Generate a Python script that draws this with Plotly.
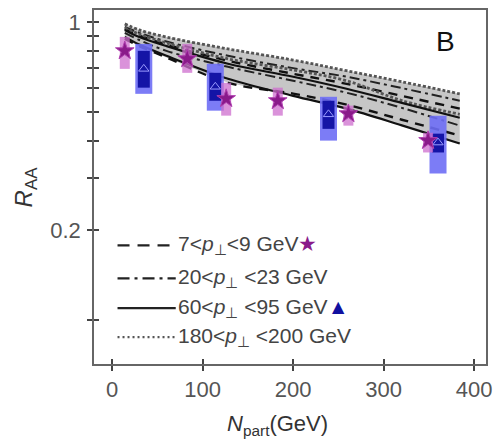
import numpy as np
import plotly.graph_objects as go

# ---- theory curves: R_AA vs N_part, upper/lower edge of each pT band ----
n_curve = [14, 30, 60, 128, 200, 259, 320, 384]
dotted_hi = [0.985, 0.94, 0.89, 0.812, 0.745, 0.686, 0.63, 0.574]
dotted_lo = [0.955, 0.91, 0.85, 0.752, 0.69, 0.635, 0.545, 0.49]
dashdot_hi = [0.962, 0.92, 0.86, 0.77, 0.70, 0.655, 0.60, 0.544]
dashdot_lo = [0.919, 0.87, 0.80, 0.707, 0.635, 0.579, 0.515, 0.449]
solid_hi = [0.94, 0.89, 0.83, 0.724, 0.655, 0.597, 0.535, 0.477]
solid_lo = [0.891, 0.84, 0.77, 0.645, 0.565, 0.512, 0.45, 0.391]
dashed_hi = [0.947, 0.90, 0.84, 0.741, 0.67, 0.62, 0.565, 0.512]
dashed_lo = [0.877, 0.83, 0.76, 0.625, 0.575, 0.528, 0.47, 0.416]

# ---- data: 7<pT<9 GeV (stars) ----
star_n = [14, 83, 126, 183, 261, 349]
star_r = [0.80, 0.752, 0.553, 0.544, 0.492, 0.40]
star_lo = [0.696, 0.675, 0.485, 0.485, 0.449, 0.365]
star_hi = [0.891, 0.844, 0.625, 0.602, 0.524, 0.425]

# ---- data: 60<pT<95 GeV (triangles) ----
tri_n = [35, 114, 239, 360]
tri_r = [0.696, 0.606, 0.49, 0.394]
tri_stat_lo = [0.602, 0.544, 0.438, 0.365]
tri_stat_hi = [0.80, 0.675, 0.544, 0.422]
tri_sys_lo = [0.574, 0.504, 0.40, 0.31]
tri_sys_hi = [0.844, 0.724, 0.561, 0.485]

y_major = [0.2, 1.0]
y_major_text = ["0.2", "1"]
y_minor = [0.1, 0.3, 0.4, 0.5, 0.6, 0.7, 0.8, 0.9]
x_tickvals = [0, 100, 200, 300, 400]

legend_rows = [
    ("7&lt;<i>p</i><sub>⊥</sub>&lt;9 GeV<span style='color:#8a1a8a'>★</span>", "12px,8px"),
    ("20&lt;<i>p</i><sub>⊥</sub> &lt;23 GeV", "12px,5px,3px,5px"),
    ("60&lt;<i>p</i><sub>⊥</sub> &lt;95 GeV<span style='color:#1010a0'>▲</span>", None),
    ("180&lt;<i>p</i><sub>⊥</sub> &lt;200 GeV", "2px,3px"),
]

FONT = "Arial, Liberation Sans, sans-serif"
fig = go.Figure()

# grey envelope of all bands
env_hi = np.max([dotted_hi, dashdot_hi, solid_hi, dashed_hi], axis=0)
env_lo = np.min([dotted_lo, dashdot_lo, solid_lo, dashed_lo], axis=0)
fig.add_trace(go.Scatter(
    x=list(n_curve) + list(n_curve)[::-1],
    y=list(env_hi) + list(env_lo)[::-1],
    fill="toself", fillcolor="#c6c6c6", line=dict(width=0),
    mode="lines", hoverinfo="skip", showlegend=False))

curve_styles = [
    (dashed_hi, dashed_lo, dict(color="#111", width=2.4, dash="9px,7px")),
    (dashdot_hi, dashdot_lo, dict(color="#222", width=2.0, dash="10px,4px,3px,4px")),
    (dotted_hi, dotted_lo, dict(color="#555", width=2.8, dash="3px,2px")),
    (solid_hi, solid_lo, dict(color="#111", width=2.2)),
]
for hi, lo, ln in curve_styles:
    for arr in (hi, lo):
        fig.add_trace(go.Scatter(x=n_curve, y=arr, mode="lines", line=ln,
                                 line_shape="spline", showlegend=False,
                                 hoverinfo="skip"))

def box_trace(x, y, lo, hi, color, thick):
    return go.Scatter(
        x=x, y=y, mode="markers", marker=dict(size=1, opacity=0),
        error_y=dict(type="data", symmetric=False,
                     array=[h - v for h, v in zip(hi, y)],
                     arrayminus=[v - l for v, l in zip(y, lo)],
                     color=color, thickness=thick, width=0),
        showlegend=False, hoverinfo="skip")

# systematic / statistical boxes
fig.add_trace(box_trace(tri_n, tri_r, tri_sys_lo, tri_sys_hi, "rgba(110,110,245,0.9)", 17))
fig.add_trace(box_trace(tri_n, tri_r, tri_stat_lo, tri_stat_hi, "#1414a6", 12))
fig.add_trace(box_trace(star_n, star_r, star_lo, star_hi, "rgba(205,110,205,0.75)", 10))

fig.add_trace(go.Scatter(x=tri_n, y=tri_r, mode="markers",
                         marker=dict(symbol="triangle-up", size=9, color="#1414a6",
                                     line=dict(color="#9a9aff", width=1)),
                         showlegend=False, hoverinfo="skip"))
fig.add_trace(go.Scatter(x=star_n, y=star_r, mode="markers",
                         marker=dict(symbol="star", size=14, color="#8a1a8a",
                                     line=dict(color="#b040b0", width=1)),
                         showlegend=False, hoverinfo="skip"))

# invisible trace so the overlay axes (inner tick marks) are drawn
fig.add_trace(go.Scatter(x=[None], y=[None], xaxis="x2", yaxis="y2",
                         showlegend=False, hoverinfo="skip"))

x_range = [-20, 413]
y_range = [-1.147, 0.040]
axis_col = "#666"
tick_col = "#444"

fig.update_layout(
    width=500, height=446,
    margin=dict(l=94, r=8, t=9, b=82),
    paper_bgcolor="white", plot_bgcolor="white",
    font=dict(family=FONT, color="#555"),
    showlegend=False,
    xaxis=dict(range=x_range, tickvals=x_tickvals, ticks="outside", ticklen=5,
               tickwidth=1.5, tickcolor=tick_col, showline=True, linecolor=axis_col,
               linewidth=1.5, mirror=True, showgrid=False, zeroline=False,
               tickfont=dict(size=22, color="#555")),
    yaxis=dict(type="log", range=y_range, tickvals=y_major, ticktext=y_major_text,
               ticks="outside", ticklen=5, tickwidth=1.5, tickcolor=tick_col,
               minor=dict(tickvals=y_minor, ticks="outside", ticklen=5,
                          tickwidth=1.5, tickcolor=tick_col, showgrid=False),
               ticklabelstandoff=2,
               showline=True, linecolor=axis_col, linewidth=1.5, mirror=True,
               showgrid=False, zeroline=False, tickfont=dict(size=22, color="#555")),
    xaxis2=dict(overlaying="x", range=x_range, tickvals=x_tickvals, ticks="inside",
                ticklen=5, tickwidth=1.5, tickcolor=tick_col, showticklabels=False,
                showline=False, showgrid=False, zeroline=False, side="bottom"),
    yaxis2=dict(overlaying="y", type="log", range=y_range, tickvals=y_major,
                ticks="inside", ticklen=5, tickwidth=1.5, tickcolor=tick_col,
                minor=dict(tickvals=y_minor, ticks="inside", ticklen=5,
                           tickwidth=1.5, tickcolor=tick_col, showgrid=False),
                showticklabels=False, showline=False, showgrid=False,
                zeroline=False, side="left"),
)

# axis titles and panel letter
fig.add_annotation(text="<i>R</i><sub>AA</sub>", xref="paper", yref="paper",
                   x=-0.175, y=0.5, xanchor="center", yanchor="middle",
                   textangle=-90, showarrow=False,
                   font=dict(size=24, color="#333", family=FONT))
fig.add_annotation(text="<i>N</i><sub>part</sub>(GeV)", xref="paper", yref="paper",
                   x=0.467, y=-0.172, xanchor="center", yanchor="middle",
                   showarrow=False, font=dict(size=22, color="#333", family=FONT))
fig.add_annotation(text="B", xref="paper", yref="paper", x=0.896, y=0.91,
                   xanchor="center", yanchor="middle",
                   showarrow=False, font=dict(size=28, color="#111", family=FONT))

# legend block inside the axes
row_y = [0.335, 0.242, 0.158, 0.076]
for (label, dash), yy in zip(legend_rows, row_y):
    line = dict(color="#222" if dash != "2px,3px" else "#555", width=2.3)
    if dash:
        line["dash"] = dash
    fig.add_shape(type="line", xref="paper", yref="paper",
                  x0=0.060, x1=0.2085, y0=yy, y1=yy, line=line)
    fig.add_annotation(text=label, xref="paper", yref="paper", x=0.2085, y=yy,
                       xanchor="left", yanchor="middle", showarrow=False,
                       font=dict(size=21, color="#444", family=FONT))

fig.write_html("out.html")
